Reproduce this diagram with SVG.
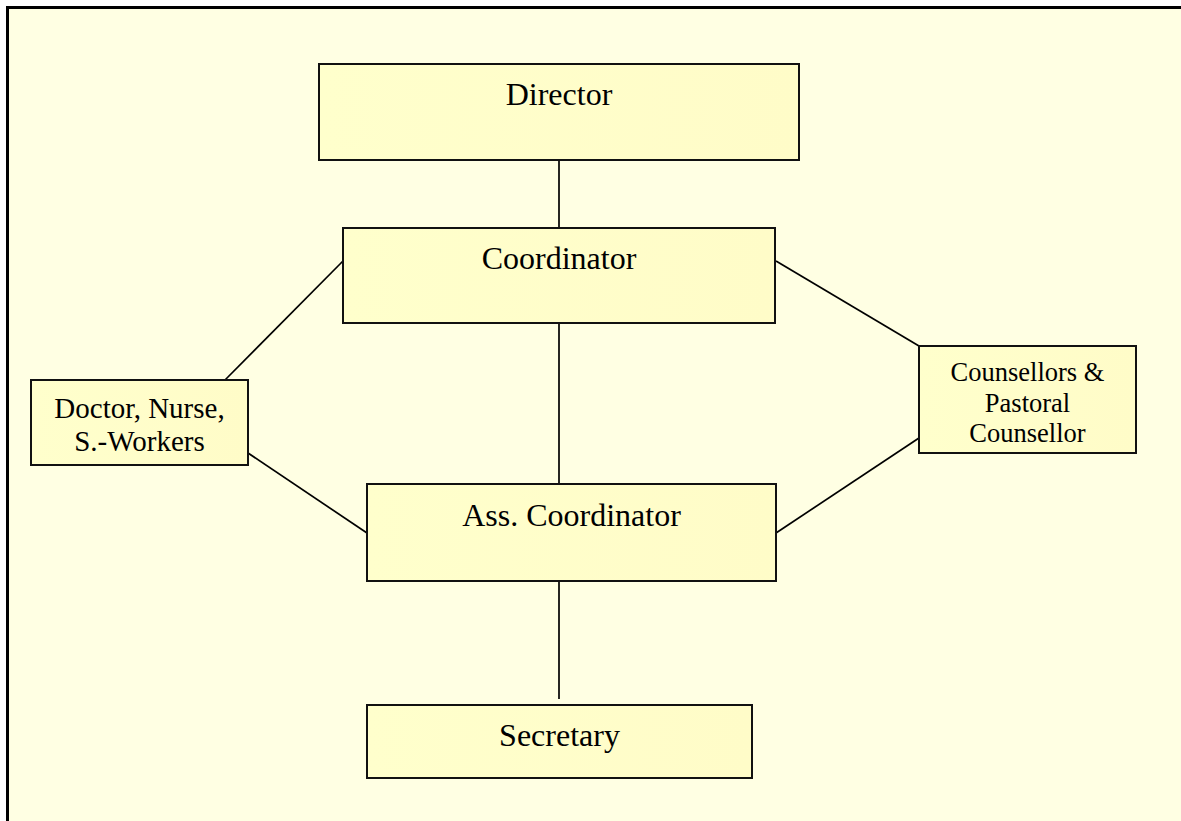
<svg xmlns="http://www.w3.org/2000/svg" width="1181" height="821" viewBox="0 0 1181 821">
  <defs>
    <linearGradient id="boxfill" x1="0" y1="0" x2="1" y2="0">
      <stop offset="0" stop-color="#FFFFCC"/>
      <stop offset="1" stop-color="#FFFCC8"/>
    </linearGradient>
  </defs>
  <style>
    .box { fill: url(#boxfill); stroke: #111; stroke-width: 2; }
    .lbl { font-family: "Liberation Serif", "Times New Roman", serif; fill: #000; text-anchor: middle; }
    .conn line { stroke: #000; stroke-width: 1.7; }
  </style>
  <rect x="0" y="0" width="1181" height="821" fill="#FFFFFF"/>
  <rect id="frame" x="7.5" y="7.5" width="1190" height="830" fill="#FFFFE3" stroke="#000" stroke-width="3"/>

  <g id="connectors" class="conn">
    <line x1="559" y1="160" x2="559" y2="228"/>
    <line x1="559" y1="323" x2="559" y2="491"/>
    <line x1="559" y1="578" x2="559" y2="699"/>
    <line x1="343" y1="261" x2="225" y2="380"/>
    <line x1="248" y1="453" x2="367" y2="533"/>
    <line x1="776" y1="261" x2="919" y2="346"/>
    <line x1="919" y1="438" x2="776" y2="533"/>
  </g>

  <g id="director">
    <rect class="box" x="319" y="64" width="480" height="96"/>
    <text class="lbl" x="559" y="105" font-size="32">Director</text>
  </g>
  <g id="coordinator">
    <rect class="box" x="343" y="228" width="432" height="95"/>
    <text class="lbl" x="559" y="269" font-size="32">Coordinator</text>
  </g>
  <g id="doctor">
    <rect class="box" x="31" y="380" width="217" height="85"/>
    <text class="lbl" x="139.5" y="418" font-size="29">Doctor, Nurse,</text>
    <text class="lbl" x="139.5" y="451" font-size="29">S.-Workers</text>
  </g>
  <g id="counsellors">
    <rect class="box" x="919" y="346" width="217" height="107"/>
    <text class="lbl" x="1027.5" y="381" font-size="26.5">Counsellors &amp;</text>
    <text class="lbl" x="1027.5" y="412" font-size="26.5">Pastoral</text>
    <text class="lbl" x="1027.5" y="442" font-size="26.5">Counsellor</text>
  </g>
  <g id="ass-coordinator">
    <rect class="box" x="367" y="484" width="409" height="97"/>
    <text class="lbl" x="571.5" y="526" font-size="32">Ass. Coordinator</text>
  </g>
  <g id="secretary">
    <rect class="box" x="367" y="705" width="385" height="73"/>
    <text class="lbl" x="559.5" y="746" font-size="32">Secretary</text>
  </g>
</svg>
